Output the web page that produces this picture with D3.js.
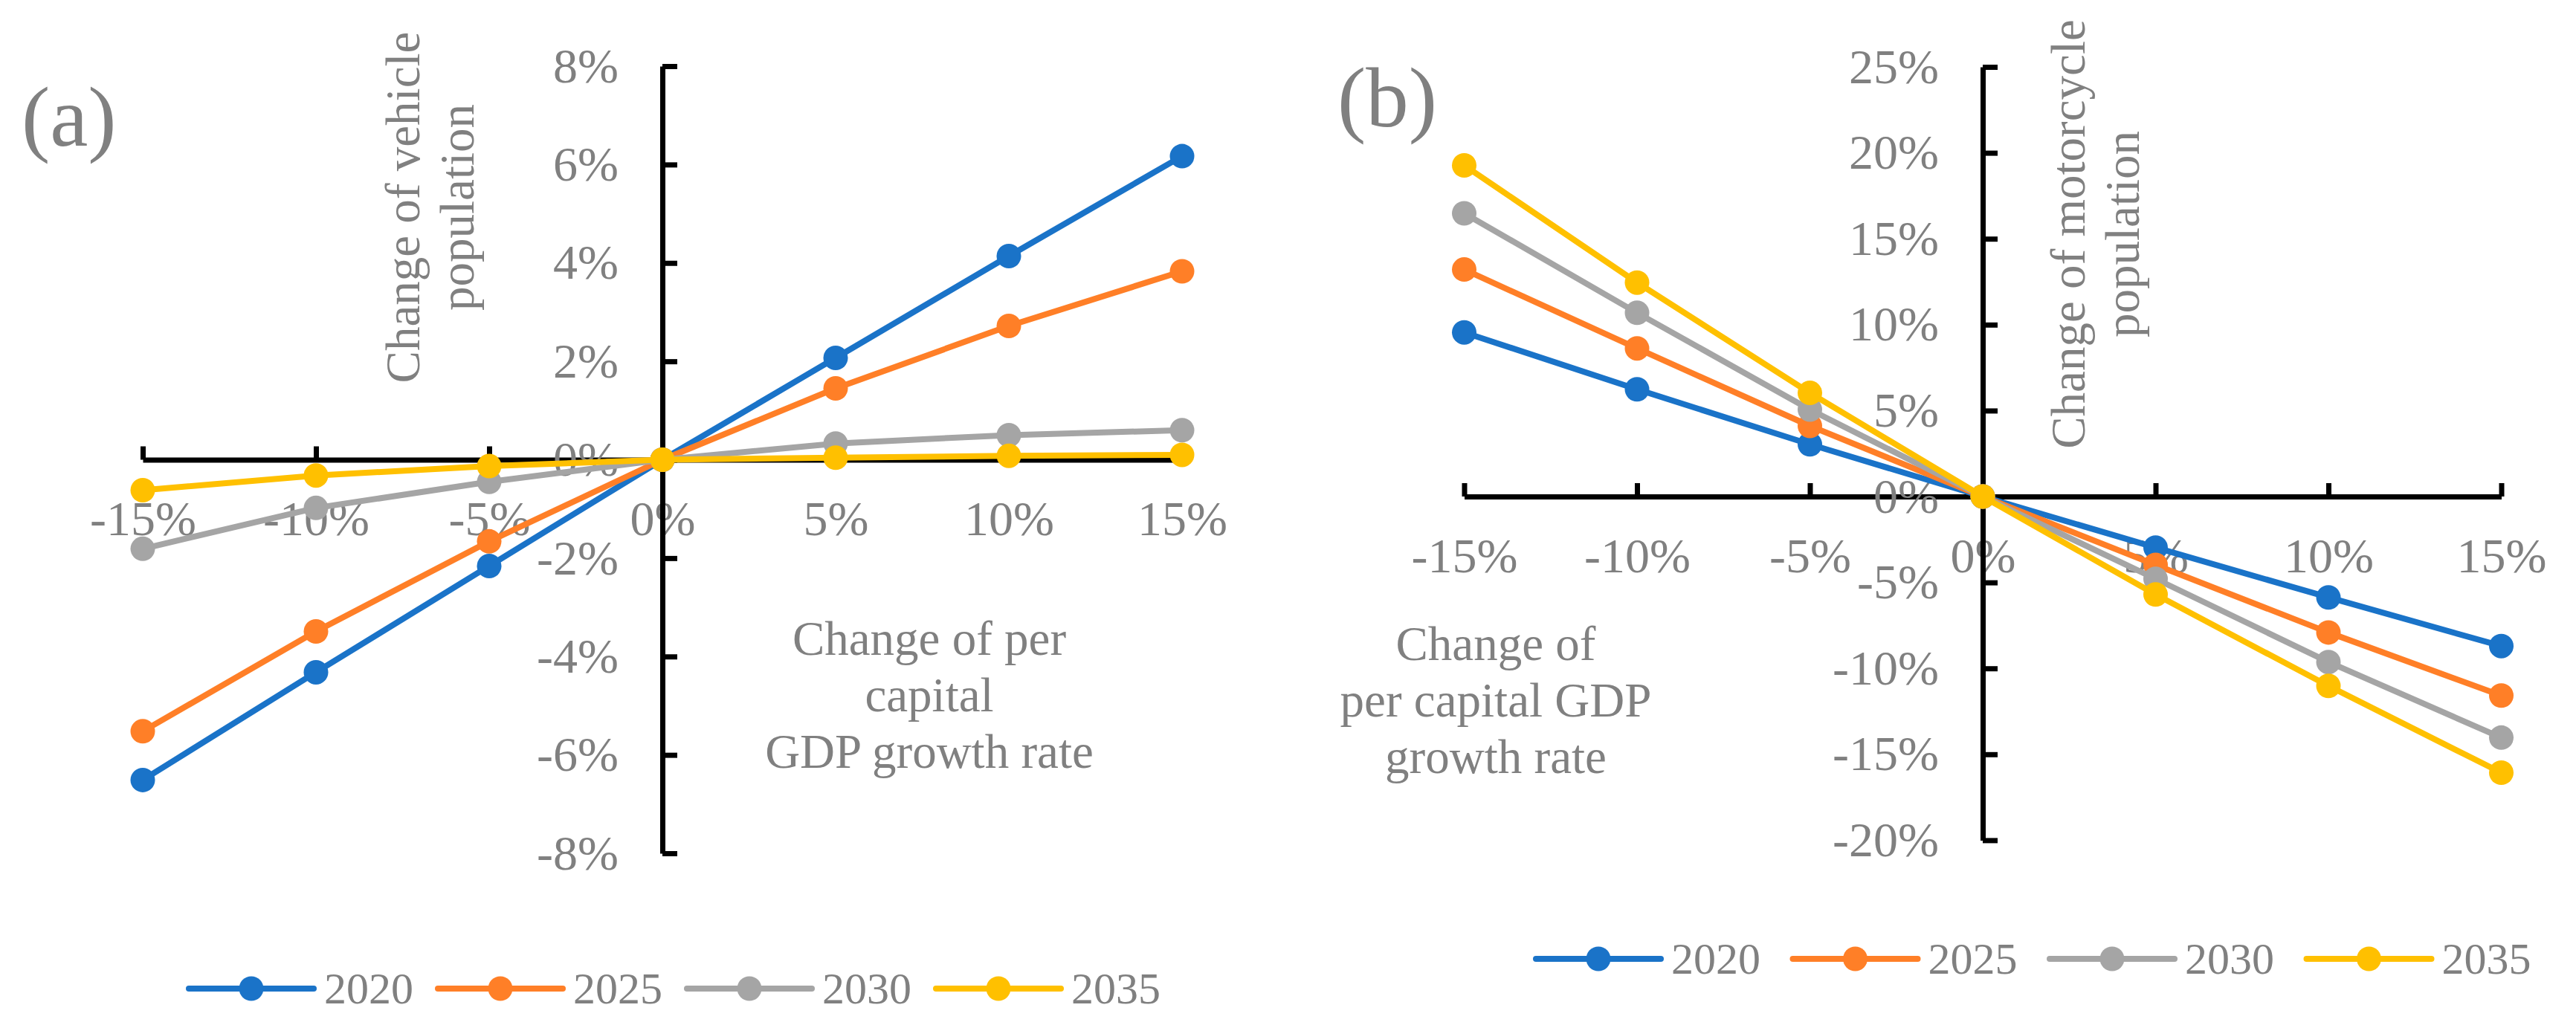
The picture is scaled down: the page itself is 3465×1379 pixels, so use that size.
<!DOCTYPE html>
<html>
<head>
<meta charset="utf-8">
<script src="https://cdn.jsdelivr.net/npm/d3@7"></script>
<style>
  body { margin: 0; background: #fff; }
  svg text { font-family: "Liberation Serif", "Times New Roman", serif; fill: #808080; }
  .axis path, .axis line { stroke: #000; stroke-width: 7; }
  .axis text { font-size: 66px; }
</style>
</head>
<body>
<svg id="chart"></svg>
<script>
// x values: change of per capita GDP growth rate (%)
const gdpChange = [-15, -10, -5, 0, 5, 10, 15];
const years = ["2020", "2025", "2030", "2035"];
const colors = ["#1a73c8", "#ff7f27", "#a5a5a5", "#ffc000"];

// (a) change of vehicle population (%)
const vehicle2020 = [-6.51, -4.32, -2.16, 0, 2.07, 4.14, 6.17];
const vehicle2025 = [-5.52, -3.49, -1.66, 0, 1.45, 2.72, 3.83];
const vehicle2030 = [-1.81, -0.98, -0.45, 0, 0.33, 0.50, 0.60];
const vehicle2035 = [-0.62, -0.32, -0.13, 0, 0.04, 0.08, 0.10];
const vehicleTicks = [-8, -6, -4, -2, 0, 2, 4, 6, 8];

// (b) change of motorcycle population (%)
const moto2020 = [9.55, 6.24, 3.04, 0, -2.97, -5.87, -8.70];
const moto2025 = [13.21, 8.62, 4.11, 0, -3.98, -7.91, -11.58];
const moto2030 = [16.48, 10.69, 5.06, 0, -4.79, -9.63, -14.03];
const moto2035 = [19.27, 12.45, 6.03, 0, -5.70, -11.02, -16.07];
const motoTicks = [-20, -15, -10, -5, 0, 5, 10, 15, 20, 25];

const svg = d3.select("#chart").attr("width", 3465).attr("height", 1379);

class CrossChart {
    constructor(_config, _series) {
        this.config = {
            xRange: _config.xRange,
            yRange: _config.yRange,
            yDomain: _config.yDomain,
            yTicks: _config.yTicks,
            tag: _config.tag,
            tagPos: _config.tagPos,
            yTitle: _config.yTitle,
            yTitlePos: _config.yTitlePos,
            xTitle: _config.xTitle,
            xTitlePos: _config.xTitlePos,
            legendX: _config.legendX,
            legendY: _config.legendY,
            legendStep: _config.legendStep
        };
        this.series = _series;
        this.initVis();
    }

    initVis() {
        let vis = this;

        vis.xScale = d3.scaleLinear().domain([-15, 15]).range(vis.config.xRange);
        vis.yScale = d3.scaleLinear().domain(vis.config.yDomain).range(vis.config.yRange);

        vis.xAxis = d3.axisBottom(vis.xScale)
            .tickValues(gdpChange)
            .tickSizeInner(-18)
            .tickSizeOuter(0)
            .tickPadding(55)
            .tickFormat(d => d + "%");

        vis.yAxis = d3.axisLeft(vis.yScale)
            .tickValues(vis.config.yTicks)
            .tickSizeInner(-20)
            .tickSizeOuter(0)
            .tickPadding(59)
            .tickFormat(d => d + "%");

        vis.chart = svg.append("g");

        vis.xAxisG = vis.chart.append("g")
            .attr("class", "axis x-axis")
            .attr("transform", `translate(0,${vis.yScale(0)})`);
        vis.yAxisG = vis.chart.append("g")
            .attr("class", "axis y-axis")
            .attr("transform", `translate(${vis.xScale(0)},0)`);

        vis.line = d3.line()
            .x((d, i) => vis.xScale(gdpChange[i]))
            .y(d => vis.yScale(d));

        vis.renderVis();
    }

    renderVis() {
        let vis = this;

        vis.xAxisG.call(vis.xAxis);
        vis.yAxisG.call(vis.yAxis);
        vis.chart.selectAll(".axis").attr("font-family", null).attr("font-size", null);

        // panel tag
        vis.chart.append("text")
            .attr("x", vis.config.tagPos[0])
            .attr("y", vis.config.tagPos[1])
            .style("font-size", "115px")
            .text(vis.config.tag);

        // y title, rotated, two lines
        let yt = vis.chart.append("text")
            .attr("transform", `translate(${vis.config.yTitlePos[0]},${vis.config.yTitlePos[1]}) rotate(-90)`)
            .attr("text-anchor", "middle")
            .style("font-size", "65px");
        vis.config.yTitle.forEach((t, i) => {
            yt.append("tspan").attr("x", 0).attr("y", i * 73).text(t);
        });

        // x title
        let xt = vis.chart.append("text")
            .attr("text-anchor", "middle")
            .style("font-size", "65px");
        vis.config.xTitle.forEach((t, i) => {
            xt.append("tspan")
                .attr("x", vis.config.xTitlePos[0])
                .attr("y", vis.config.xTitlePos[1] + i * 76)
                .text(t);
        });

        // series
        vis.series.forEach((s, k) => {
            vis.chart.append("path")
                .datum(s)
                .attr("fill", "none")
                .attr("stroke", colors[k])
                .attr("stroke-width", 8)
                .attr("stroke-linejoin", "round")
                .attr("d", vis.line);

            vis.chart.selectAll(null)
                .data(s)
                .join("circle")
                .attr("cx", (d, i) => vis.xScale(gdpChange[i]))
                .attr("cy", d => vis.yScale(d))
                .attr("r", 16.5)
                .attr("fill", colors[k]);
        });

        // legend
        let leg = vis.chart.selectAll(".legend-item")
            .data(years)
            .join("g")
            .attr("class", "legend-item")
            .attr("transform", (d, i) => `translate(${vis.config.legendX + i * vis.config.legendStep},${vis.config.legendY})`);

        leg.append("line")
            .attr("x1", 0).attr("x2", 168)
            .attr("stroke", (d, i) => colors[i])
            .attr("stroke-width", 8)
            .attr("stroke-linecap", "round");
        leg.append("circle")
            .attr("cx", 84)
            .attr("r", 16.5)
            .attr("fill", (d, i) => colors[i]);
        leg.append("text")
            .attr("x", 182)
            .attr("dy", "0.34em")
            .style("font-size", "60px")
            .text(d => d);
    }
}

new CrossChart({
    xRange: [192, 1590],
    yRange: [1148, 89],
    yDomain: [-8, 8],
    yTicks: vehicleTicks,
    tag: "(a)",
    tagPos: [29, 196],
    yTitle: ["Change of vehicle", "population"],
    yTitlePos: [564, 279],
    xTitle: ["Change of per", "capital", "GDP growth rate"],
    xTitlePos: [1250, 881],
    legendX: 254,
    legendY: 1330,
    legendStep: 335
}, [vehicle2020, vehicle2025, vehicle2030, vehicle2035]);

new CrossChart({
    xRange: [1969.5, 3364.5],
    yRange: [1130.4, 90],
    yDomain: [-20, 25],
    yTicks: motoTicks,
    tag: "(b)",
    tagPos: [1799, 170],
    yTitle: ["Change of motorcycle", "population"],
    yTitlePos: [2804, 315],
    xTitle: ["Change of", "per capital GDP", "growth rate"],
    xTitlePos: [2012, 888],
    legendX: 2066,
    legendY: 1290,
    legendStep: 345.5
}, [moto2020, moto2025, moto2030, moto2035]);
</script>
</body>
</html>
